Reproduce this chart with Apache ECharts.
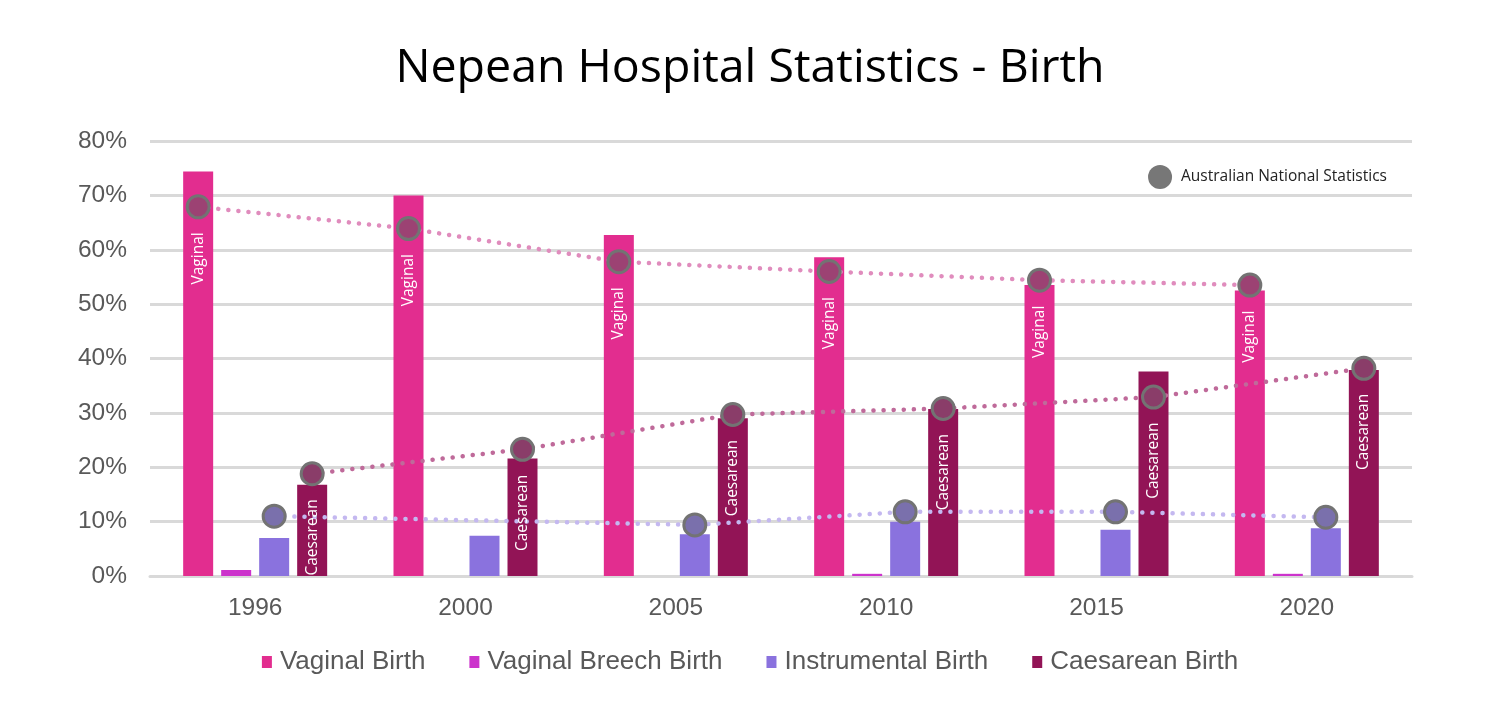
<!DOCTYPE html>
<html>
<head>
<meta charset="utf-8">
<script src="https://cdn.jsdelivr.net/npm/echarts@6/dist/echarts.min.js"></script>
<style>
html,body{margin:0;padding:0;background:#fff;}
#chart{width:1500px;height:708px;}
</style>
</head>
<body>
<div id="chart"></div>
<script>
// ---- data ----
const years = ['1996', '2000', '2005', '2010', '2015', '2020'];
const vaginal = [74.4, 70.0, 62.7, 58.6, 53.5, 52.5];
const breech = [1.1, 0, 0, 0.4, 0, 0.4];
const instrumental = [7.0, 7.4, 7.7, 10.0, 8.5, 8.8];
const caesarean = [16.8, 21.6, 29.0, 30.7, 37.6, 37.9];
const natVaginal = [67.9, 63.9, 57.8, 56.0, 54.4, 53.5];
const natInstrumental = [11.0, null, 9.4, 11.8, 11.8, 10.8];
const natCaesarean = [18.8, 23.3, 29.7, 30.8, 32.9, 38.2];
const yTicks = [0, 10, 20, 30, 40, 50, 60, 70, 80];

// ---- layout ----
const W = 1500, gridLeft = 150, gridRight = 88;
const barW = 30, barGapPx = 8;
const catW = (W - gridLeft - gridRight) / years.length;
const groupW = 4 * barW + 3 * barGapPx;
function slotOffset(k) { return (-groupW / 2 + barW / 2 + k * (barW + barGapPx)) / catW; }
function toPts(arr, k) {
  const out = [];
  arr.forEach((v, i) => { if (v !== null) out.push([i + 0.5 + slotOffset(k), v]); });
  return out;
}

const chart = echarts.init(document.getElementById('chart'));
const natLabel = (txt) => ({
  show: true, position: 'bottom', distance: 13, rotate: 90,
  align: 'right', verticalAlign: 'middle',
  formatter: txt, color: '#fff', fontFamily: 'Open Sans', fontSize: 15.5
});
const natLine = (name, data, k, lineColor, fill, label) => ({
  name: 'Australian National Statistics', type: 'line', xAxisIndex: 1,
  data: toPts(data, k), symbol: 'circle', symbolSize: 22,
  itemStyle: { color: fill, borderColor: '#737373', borderWidth: 3 },
  lineStyle: { color: lineColor, width: 4.5, type: [0.1, 10], cap: 'round' },
  label: label, z: 5, silent: true
});

chart.setOption({
  animation: false,
  title: {
    text: 'Nepean Hospital Statistics - Birth', left: 'center', top: 40,
    textStyle: { fontFamily: 'Open Sans', fontSize: 46.5, fontWeight: 'normal', color: '#000' }
  },
  legend: [{
    data: ['Vaginal Birth', 'Vaginal Breech Birth', 'Instrumental Birth', 'Caesarean Birth'],
    bottom: 28, left: 'center', icon: 'rect', itemWidth: 10, itemHeight: 12, itemGap: 44,
    textStyle: { fontFamily: 'Liberation Sans', fontSize: 26, color: '#595959', padding: [0, 0, 0, 3] }
  }, {
    data: [{ name: 'Australian National Statistics', icon: 'circle', itemStyle: { color: '#777', borderWidth: 0 } }],
    right: 108, top: 160, itemWidth: 24, itemHeight: 24, itemGap: 8,
    textStyle: { fontFamily: 'Open Sans', fontSize: 15.5, color: '#222', padding: [0, 0, 0, 4] }
  }],
  grid: { left: gridLeft, right: gridRight, top: 141, bottom: 132 },
  xAxis: [{
    type: 'category', data: years,
    axisLine: { lineStyle: { color: '#d9d9d9', width: 3 } },
    axisTick: { show: false },
    axisLabel: { margin: 20, fontFamily: 'Liberation Sans', fontSize: 24.5, color: '#595959' }
  }, {
    type: 'value', min: 0, max: years.length, show: false
  }],
  yAxis: {
    type: 'value', min: yTicks[0], max: yTicks[yTicks.length - 1], interval: 10,
    axisLine: { show: false }, axisTick: { show: false },
    splitLine: { lineStyle: { color: '#d9d9d9', width: 3 } },
    axisLabel: { margin: 23, formatter: '{value}%', fontFamily: 'Liberation Sans', fontSize: 24.5, color: '#595959' }
  },
  series: [
    { name: 'Vaginal Birth', type: 'bar', data: vaginal, barWidth: barW, barGap: (barGapPx / barW * 100) + '%', itemStyle: { color: '#e22d8f' } },
    { name: 'Vaginal Breech Birth', type: 'bar', data: breech, barWidth: barW, itemStyle: { color: '#cc33cc' } },
    { name: 'Instrumental Birth', type: 'bar', data: instrumental, barWidth: barW, itemStyle: { color: '#8a72de' } },
    { name: 'Caesarean Birth', type: 'bar', data: caesarean, barWidth: barW, itemStyle: { color: '#921456' } },
    natLine('v', natVaginal, 0, '#e08cbd', '#9c4273', natLabel('Vaginal')),
    natLine('i', natInstrumental, 2, '#c4b8f0', '#7a70ac', { show: false }),
    natLine('c', natCaesarean, 3, '#bf6a9a', '#8a3d69', natLabel('Caesarean'))
  ]
});
</script>
</body>
</html>
